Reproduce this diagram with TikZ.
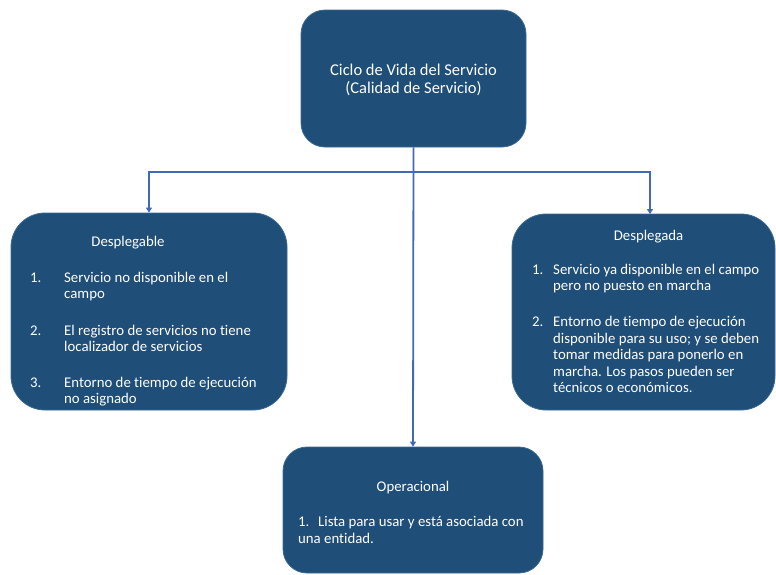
\documentclass[tikz,border=0pt]{standalone}
\usepackage{fontspec}
\setmainfont[Ligatures=NoCommon]{Carlito}
\usetikzlibrary{arrows.meta}
\definecolor{boxfill}{HTML}{1F4E79}
\definecolor{boxedge}{HTML}{3B6893}
\definecolor{linkblue}{HTML}{4169B8}
\begin{document}
\begin{tikzpicture}[x=1pt,y=-1pt,
  stage/.style={rectangle,fill=boxfill,draw=boxedge,line width=0.8pt,inner sep=0pt},
  txt/.style={text=white,inner sep=0pt,anchor=base west,font=\fontsize{14.8}{17}\selectfont},
  ttl/.style={text=white,inner sep=0pt,anchor=base,font=\fontsize{14.8}{17}\selectfont},
  conn/.style={draw=linkblue,line width=1.8pt},
  tip/.style={-{Triangle[length=5pt,width=6pt]}}]
\useasboundingbox (0,0) rectangle (776,574);

% stage boxes
\node[stage,rounded corners=24pt,minimum width=225pt,minimum height=137pt] (top) at (413.5,78.5) {};
\node[stage,rounded corners=34pt,minimum width=276pt,minimum height=197pt] (left) at (149,311.5) {};
\node[stage,rounded corners=34pt,minimum width=263pt,minimum height=196pt] (right) at (643.5,312) {};
\node[stage,rounded corners=24pt,minimum width=260pt,minimum height=126pt] (bottom) at (413,510) {};

% connectors
\coordinate (split) at (413.5,172);
\coordinate (rin) at (650,214);
\draw[conn,tip] (top.south) -- (bottom.north);
\draw[conn,tip] (split) -| (left.north);
\draw[conn,tip] (split) -| (rin);

% top box
\node[ttl,font=\fontsize{16.5}{19}\selectfont] (t1) at (413.5,75) {Ciclo de Vida del Servicio};
\node[ttl,font=\fontsize{16.5}{19}\selectfont] (t2) at (413.5,93.5) {(Calidad de Servicio)};

% left box
\node[ttl] (l0) at (128,246) {Desplegable};
\node[txt] (l1n) at (30,282) {1.};
\node[txt] (l1a) at (64,282) {Servicio no disponible en el};
\node[txt] (l1b) at (64,298.5) {campo};
\node[txt] (l2n) at (30,335) {2.};
\node[txt] (l2a) at (64,335) {El registro de servicios no tiene};
\node[txt] (l2b) at (64,351.5) {localizador de servicios};
\node[txt] (l3n) at (30,387) {3.};
\node[txt] (l3a) at (64,387) {Entorno de tiempo de ejecución};
\node[txt] (l3b) at (64,403) {no asignado};

% right box
\node[ttl] (r0) at (648.5,240) {Desplegada};
\node[txt] (r1n) at (532,274) {1.};
\node[txt] (r1a) at (553,274) {Servicio ya disponible en el campo};
\node[txt] (r1b) at (553,290.5) {pero no puesto en marcha};
\node[txt] (r2n) at (532,326.5) {2.};
\node[txt] (r2a) at (553,326.5) {Entorno de tiempo de ejecución};
\node[txt] (r2b) at (553,343) {disponible para su uso; y se deben};
\node[txt] (r2c) at (553,359.5) {tomar medidas para ponerlo en};
\node[txt] (r2d) at (553,376) {marcha. Los pasos pueden ser};
\node[txt] (r2e) at (553,392.5) {técnicos o económicos.};

% bottom box
\node[ttl] (b0) at (413,491) {Operacional};
\node[txt] (b1n) at (298,526) {1.};
\node[txt] (b1a) at (318,526) {Lista para usar y está asociada con};
\node[txt] (b1b) at (298,543) {una entidad.};
\end{tikzpicture}
\end{document}
